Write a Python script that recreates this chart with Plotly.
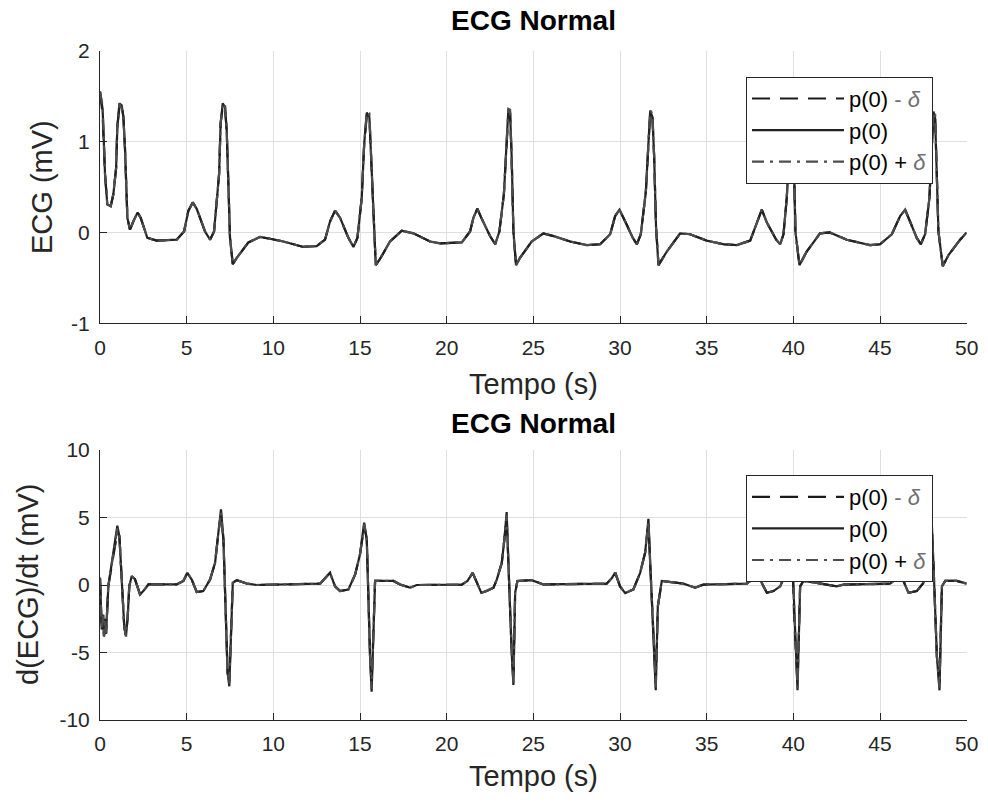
import plotly.graph_objects as go

# ---------------- data: ECG (top) ----------------
t_ecg = [0.00, 0.15, 0.29, 0.42, 0.62, 0.77, 0.93, 1.00, 1.12, 1.25, 1.35, 1.44, 1.58, 1.73, 1.92,
         2.17, 2.35, 2.73, 3.27, 4.42, 4.85, 5.10, 5.35, 5.58, 6.06, 6.35, 6.58, 6.73, 6.87, 6.96,
         7.08, 7.21, 7.31, 7.40, 7.50, 7.66, 7.89, 8.56, 9.23, 9.81, 10.58, 11.73, 12.50, 12.98,
         13.27, 13.56, 13.85, 14.33, 14.62, 14.85, 15.10, 15.24, 15.39, 15.54, 15.62, 15.77, 15.91,
         16.16, 16.73, 17.41, 18.08, 19.04, 19.62, 20.87, 21.35, 21.54, 21.77, 22.00, 22.50, 22.80,
         23.04, 23.30, 23.43, 23.56, 23.66, 23.75, 23.85, 24.00, 24.23, 24.90, 25.58, 26.16, 27.12,
         28.08, 28.85, 29.43, 29.72, 29.97, 30.30, 30.74, 30.97, 31.20, 31.49, 31.60, 31.74, 31.87,
         31.97, 32.08, 32.22, 32.70, 33.47, 34.04, 35.00, 35.97, 36.74, 37.51, 37.93, 38.18, 38.47,
         39.01, 39.24, 39.43, 39.62, 39.75, 39.88, 39.98, 40.05, 40.12, 40.35, 40.77, 41.54, 42.10,
         43.08, 44.42, 45.00, 45.68, 46.16, 46.45, 46.73, 47.12, 47.35, 47.60, 47.85, 47.97, 48.08,
         48.18, 48.27, 48.37, 48.62, 48.95, 49.62, 50.00]
ecg_p0 = [1.55, 1.36, 0.64, 0.31, 0.29, 0.42, 0.71, 1.16, 1.42, 1.40, 1.27, 0.93, 0.16, 0.03, 0.12,
          0.22, 0.16, -0.06, -0.09, -0.08, 0.01, 0.24, 0.33, 0.26, 0.01, -0.08, 0.01, 0.30, 0.64, 1.20,
          1.42, 1.38, 1.12, 0.57, -0.06, -0.35, -0.28, -0.11, -0.05, -0.07, -0.10, -0.16, -0.15, -0.08,
          0.12, 0.24, 0.16, -0.06, -0.16, -0.06, 0.38, 0.97, 1.32, 1.27, 0.90, 0.20, -0.36,
          -0.29, -0.10, 0.02, -0.01, -0.10, -0.12, -0.11, 0.01, 0.16, 0.26, 0.16, -0.04, -0.13,
          0.01, 0.42, 0.90, 1.36, 1.31, 0.83, 0.01, -0.36, -0.28, -0.10, -0.01, -0.04, -0.10,
          -0.14, -0.13, -0.02, 0.18, 0.25, 0.12, -0.06, -0.13, -0.02, 0.45, 0.86, 1.34, 1.27,
          0.83, 0.05, -0.36, -0.21, -0.01, -0.02, -0.09, -0.13, -0.14, -0.09, 0.13, 0.25, 0.11,
          -0.08, -0.13, -0.02, 0.38, 0.90, 1.33, 1.25, 0.70, 0.01, -0.36, -0.21, -0.01, 0.00,
          -0.08, -0.14, -0.13, -0.02, 0.18, 0.25, 0.12, -0.06, -0.13, -0.02, 0.38, 0.90, 1.33,
          1.25, 0.70, 0.01, -0.37, -0.25, -0.08, 0.00]
# small deviations of the perturbed runs near the R peaks (time -> value)
ecg_minus_edits = {0.15: 1.30, 1.12: 1.38, 7.08: 1.38, 15.39: 1.28, 23.56: 1.31, 31.74: 1.30, 39.88: 1.29, 48.08: 1.29}
ecg_plus_edits = {0.15: 1.40, 1.25: 1.36, 7.21: 1.42, 15.54: 1.31, 23.66: 1.35, 31.87: 1.31, 39.98: 1.30, 48.18: 1.30}

# ---------------- data: d(ECG)/dt (bottom) ----------------
t_der = [0.00, 0.02, 0.10, 0.18, 0.23, 0.30, 0.35, 0.48, 0.67, 0.87, 1.00, 1.12, 1.19, 1.31, 1.40,
         1.50, 1.60, 1.69, 1.83, 2.02, 2.31, 2.50, 2.79, 4.42, 4.81, 5.04, 5.29, 5.58, 5.96, 6.35,
         6.64, 6.83, 6.98, 7.12, 7.21, 7.31, 7.36, 7.46, 7.54, 7.66, 7.89, 8.46, 9.04, 12.70, 12.98,
         13.27, 13.56, 13.85, 14.33, 14.72, 15.00, 15.24, 15.39, 15.48, 15.58, 15.67, 15.80, 15.87,
         16.93, 17.31, 17.89, 18.27, 20.87, 21.20, 21.50, 21.73, 22.00, 22.30, 22.70, 22.89, 23.18,
         23.33, 23.46, 23.56, 23.66, 23.75, 23.85, 23.95, 24.08, 24.90, 25.58, 29.23, 29.52, 29.72,
         30.00, 30.30, 30.77, 31.16, 31.45, 31.64, 31.74, 31.89, 31.97, 32.06, 32.18, 32.41, 33.66,
         34.33, 34.80, 37.31, 37.70, 37.99, 38.18, 38.47, 38.85, 39.24, 39.53, 39.70, 39.85, 39.95,
         40.05, 40.16, 40.24, 40.39, 40.58, 41.35, 42.50, 42.89, 45.58, 45.97, 46.16, 46.35, 46.64,
         47.12, 47.50, 47.80, 47.98, 48.08, 48.18, 48.28, 48.43, 48.57, 48.76, 49.43, 50.00]
der_p0 = [0.53, -0.58, -3.3, -2.2, -3.8, -2.5, -3.6, -0.08, 1.5, 3.14, 4.4, 3.6, 2.1, -1.1, -3.1,
          -3.8, -2.3, -0.08, 0.66, 0.42, -0.7, -0.45, 0.04, 0.04, 0.30, 0.90, 0.40, -0.52, -0.45, 0.40,
          1.65, 3.88, 5.6, 3.4, -0.83, -3.8, -6.5, -7.5, -3.8, 0.16, 0.36, 0.11, 0.00, 0.10, 0.50,
          0.90, -0.10, -0.45, -0.33, 0.78, 2.27, 4.62, 3.40, -1.60, -5.30, -7.90, -1.33, 0.30,
          0.30, 0.04, -0.20, 0.00, 0.03, 0.30, 0.90, 0.15, -0.58, -0.45, -0.20, 0.40, 1.65,
          3.40, 5.40, 1.65, -2.56, -5.00, -7.40, -0.58, 0.30, 0.36, 0.04, 0.10, 0.50, 0.93,
          -0.10, -0.60, -0.33, 0.90, 2.40, 4.90, 1.65, -2.30, -5.30, -7.80, -1.60, 0.30, 0.10,
          -0.20, 0.03, 0.10, 0.50, 0.90, 0.15, -0.58, -0.45, -0.10, 0.76, 2.40, 4.90, 1.65,
          -2.56, -5.30, -7.80, -0.10, 0.30, 0.16, -0.10, 0.03, 0.10, 0.50, 0.90, 0.30, -0.58,
          -0.45, 0.15, 1.80, 4.80, 1.65, -2.56, -5.30, -7.80, -0.10, 0.30, 0.30, 0.10]
der_minus_edits = {1.00: 3.9, 6.98: 5.2, 7.46: -7.1, 15.24: 4.3, 15.67: -7.4, 23.46: 5.0, 23.85: -7.0,
                   31.64: 4.5, 32.06: -7.3, 39.85: 4.5, 40.24: -7.3, 47.98: 4.4, 48.43: -7.3}
der_plus_edits = {1.00: 4.2, 6.98: 5.4, 7.46: -7.3, 15.24: 4.5, 15.67: -7.7, 23.46: 5.2, 23.85: -7.2,
                  31.64: 4.7, 32.06: -7.6, 39.85: 4.7, 40.24: -7.6, 47.98: 4.6, 48.43: -7.6}

x_ticks = [0, 5, 10, 15, 20, 25, 30, 35, 40, 45, 50]
x_ticklabels = ["0", "5", "10", "15", "20", "25", "30", "35", "40", "45", "50"]
y1_ticks = [-1, 0, 1, 2]
y1_ticklabels = ["-1", "0", "1", "2"]
y2_ticks = [-10, -5, 0, 5, 10]
y2_ticklabels = ["-10", "-5", "0", "5", "10"]
series_names = ["p(0) <span style='color:#707070'>- <i>δ</i></span>", "p(0)",
                "p(0) + <i><span style='color:#707070'>δ</span></i>"]


def apply_edits(ts, vals, edits):
    out = list(vals)
    for k, v in edits.items():
        out[ts.index(k)] = v
    return out


ecg_minus = apply_edits(t_ecg, ecg_p0, ecg_minus_edits)
ecg_plus = apply_edits(t_ecg, ecg_p0, ecg_plus_edits)
der_minus = apply_edits(t_der, der_p0, der_minus_edits)
der_plus = apply_edits(t_der, der_p0, der_plus_edits)

FONT = "Liberation Sans, Arial, Helvetica, sans-serif"
AX = "#262626"
GRID = "#dfdfdf"

styles = [dict(color="#1a1a1a", width=2.2, dash="18px,10px"),
          dict(color="#222222", width=2.2),
          dict(color="#4d4d4d", width=2.2, dash="12px,6px,3px,6px")]

fig = go.Figure()
for i, (ys, name) in enumerate(zip([ecg_minus, ecg_p0, ecg_plus], series_names)):
    fig.add_trace(go.Scatter(x=t_ecg, y=ys, mode="lines", name=name, line=styles[i],
                             xaxis="x", yaxis="y", legend="legend"))
for i, (ys, name) in enumerate(zip([der_minus, der_p0, der_plus], series_names)):
    fig.add_trace(go.Scatter(x=t_der, y=ys, mode="lines", name=name, line=styles[i],
                             xaxis="x2", yaxis="y2", legend="legend2"))

W, H = 988, 807
x0, x1 = 100, 966.7
top_y0, top_y1 = 50.7, 323.3
bot_y0, bot_y1 = 450.0, 720.0


def fy(py):
    return (H - py) / H


xdom = [x0 / W, x1 / W]
common_x = dict(range=[0, 50], tickvals=x_ticks, ticktext=x_ticklabels, ticks="inside", ticklen=7,
                tickcolor=AX, showline=True, linecolor=AX, linewidth=1, mirror=False, showgrid=True,
                gridcolor=GRID, gridwidth=1, zeroline=False, domain=xdom, automargin=False,
                tickfont=dict(family=FONT, size=21, color=AX), ticklabelstandoff=5)
common_y = dict(ticks="inside", ticklen=7, tickcolor=AX, showline=True, linecolor=AX, linewidth=1,
                mirror=False, showgrid=True, gridcolor=GRID, gridwidth=1, zeroline=False,
                automargin=False, tickfont=dict(family=FONT, size=21, color=AX), ticklabelstandoff=5)

legend_common = dict(bgcolor="white", bordercolor=AX, borderwidth=1,
                     font=dict(family=FONT, size=22, color="#000"), itemwidth=92,
                     xanchor="left", yanchor="top", tracegroupgap=0, xref="paper", yref="paper")

fig.update_layout(
    width=W, height=H, margin=dict(l=0, r=0, t=0, b=0, pad=0, autoexpand=False),
    paper_bgcolor="white", plot_bgcolor="white", showlegend=True,
    xaxis=dict(**common_x, anchor="y"),
    yaxis=dict(**common_y, range=[-1, 2], tickvals=y1_ticks, ticktext=y1_ticklabels,
               domain=[fy(top_y1), fy(top_y0)], anchor="x"),
    xaxis2=dict(**common_x, anchor="y2"),
    yaxis2=dict(**common_y, range=[-10, 10], tickvals=y2_ticks, ticktext=y2_ticklabels,
                domain=[fy(bot_y1), fy(bot_y0)], anchor="x2"),
    legend=dict(**legend_common, x=746 / W, y=fy(76.7)),
    legend2=dict(**legend_common, x=746 / W, y=fy(475)),
)

cx = (x0 + x1) / 2 / W
ann = [
    dict(text="<b>ECG Normal</b>", x=cx, y=fy(21), font=dict(size=28)),
    dict(text="<b>ECG Normal</b>", x=cx, y=fy(423), font=dict(size=28)),
    dict(text="Tempo (s)", x=cx, y=fy(384), font=dict(size=29, color=AX)),
    dict(text="Tempo (s)", x=cx, y=fy(776), font=dict(size=29, color=AX)),
    dict(text="ECG (mV)", x=42 / W, y=fy((top_y0 + top_y1) / 2), textangle=-90, font=dict(size=29, color=AX)),
    dict(text="d(ECG)/dt (mV)", x=28 / W, y=fy((bot_y0 + bot_y1) / 2), textangle=-90, font=dict(size=29, color=AX)),
]
for a in ann:
    f = a.pop("font")
    f.setdefault("color", "#000")
    f["family"] = FONT
    fig.add_annotation(**a, xref="paper", yref="paper", showarrow=False, xanchor="center",
                       yanchor="middle", font=f)

fig.write_html("out.html")
